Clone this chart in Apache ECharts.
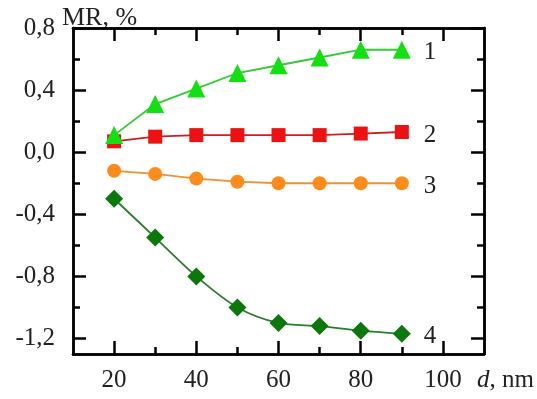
<!DOCTYPE html>
<html>
<head>
  <meta charset="utf-8">
  <title>MR vs d</title>
</head>
<body style="margin: 0; background: #ffffff;">
  <div id="container" style="width: 537px; height: 399px;"></div>
  <script src="https://cdn.jsdelivr.net/npm/echarts@6/dist/echarts.min.js"></script>
  <script type="text/javascript">
    const dValues = [20, 30, 40, 50, 60, 70, 80, 90];
    const mr1 = [0.11, 0.31, 0.41, 0.51, 0.56, 0.61, 0.66, 0.66];
    const mr2 = [0.07, 0.10, 0.11, 0.11, 0.11, 0.11, 0.12, 0.13];
    const mr3 = [-0.12, -0.14, -0.17, -0.19, -0.20, -0.20, -0.20, -0.20];
    const mr4 = [-0.30, -0.55, -0.80, -1.00, -1.10, -1.12, -1.15, -1.17];
    const seriesNames = ['1', '2', '3', '4'];

    const xMajorTicks = [20, 40, 60, 80, 100];
    const xMinorTicks = [30, 50, 70, 90];
    const yMajorTicks = [-1.2, -0.8, -0.4, 0, 0.4, 0.8];
    const yMinorTicks = [-1.0, -0.6, -0.2, 0.2, 0.6];

    const font = "'Liberation Serif', 'Times New Roman', serif";
    const fs = 25;
    const black = '#000';
    const textColor = '#222';

    const chart = echarts.init(document.getElementById('container'));

    function pairs(ys) {
      return dValues.map((d, i) => [d, ys[i]]);
    }

    function xAx(pos, ticks, len, labels) {
      return {
        type: 'value', position: pos, min: 10, max: 110,
        axisLine: { show: true, onZero: false, lineStyle: { color: black, width: 2.5 } },
        axisTick: { show: true, inside: true, length: len, customValues: ticks, lineStyle: { color: black, width: 2.5 } },
        axisLabel: labels ? {
          show: true, customValues: ticks, margin: 14,
          fontFamily: font, fontSize: fs, color: textColor
        } : { show: false },
        splitLine: { show: false }
      };
    }

    function yAx(pos, ticks, len, labels) {
      return {
        type: 'value', position: pos, min: -1.3, max: 0.8,
        axisLine: { show: true, onZero: false, lineStyle: { color: black, width: 2.5 } },
        axisTick: { show: true, inside: true, length: len, customValues: ticks, lineStyle: { color: black, width: 2.5 } },
        axisLabel: labels ? {
          show: true, customValues: ticks, margin: 18,
          fontFamily: font, fontSize: fs, color: textColor,
          formatter: v => v.toFixed(1).replace('.', ',')
        } : { show: false },
        splitLine: { show: false }
      };
    }

    const xMain = xAx('bottom', xMajorTicks, 13, true);
    xMain.name = '{i|d}, nm';
    xMain.nameLocation = 'end';
    xMain.nameGap = -7;
    xMain.nameTextStyle = {
      fontFamily: font, fontSize: fs, color: textColor, align: 'left',
      verticalAlign: 'top', padding: [14, 0, 0, 0],
      rich: { i: { fontFamily: font, fontSize: fs, fontStyle: 'italic', color: textColor } }
    };

    const yMain = yAx('left', yMajorTicks, 13, true);
    yMain.name = 'MR, %';
    yMain.nameLocation = 'end';
    yMain.nameGap = -3;
    yMain.nameTextStyle = {
      fontFamily: font, fontSize: 26, color: textColor, align: 'left',
      verticalAlign: 'bottom', padding: [0, 0, 0, -11]
    };

    function line(name, ys, symbol, size, fill, stroke, smooth, z) {
      return {
        name: name, type: 'line', data: pairs(ys),
        xAxisIndex: 0, yAxisIndex: 0,
        symbol: symbol, symbolSize: size, smooth: smooth, z: z,
        itemStyle: { color: fill },
        lineStyle: { color: stroke, width: 1.8 },
        endLabel: {
          show: true, formatter: name, distance: 22, offset: [0, 3],
          fontFamily: font, fontSize: fs, color: textColor
        }
      };
    }

    const option = {
      animation: false,
      grid: { left: 73, right: 52, top: 28, bottom: 45 },
      xAxis: [
        xMain,
        xAx('bottom', xMinorTicks, 7, false),
        xAx('top', xMajorTicks, 13, false),
        xAx('top', xMinorTicks, 7, false)
      ],
      yAxis: [
        yMain,
        yAx('left', yMinorTicks, 7, false),
        yAx('right', yMajorTicks, 13, false),
        yAx('right', yMinorTicks, 7, false)
      ],
      series: [
        line(seriesNames[3], mr4, 'diamond', 18, '#0b780b', '#2e7d2e', 0.3, 2),
        line(seriesNames[2], mr3, 'circle', 14, '#ff8c1a', '#f39030', false, 3),
        line(seriesNames[1], mr2, 'rect', 14, '#ee1111', '#cc1f1f', false, 4),
        line(seriesNames[0], mr1, 'triangle', 18, '#11e011', '#33cc33', false, 5)
      ]
    };

    chart.setOption(option);
  </script>
</body>
</html>
